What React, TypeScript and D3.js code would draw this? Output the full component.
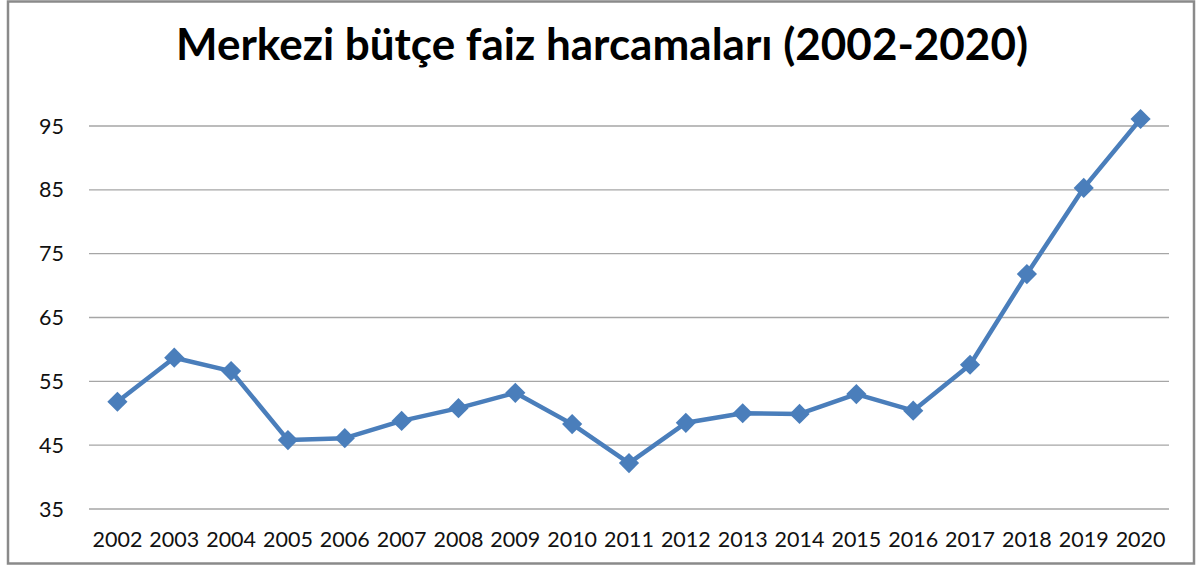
import React from "react";
import * as d3 from "d3";

const years = ["2002","2003","2004","2005","2006","2007","2008","2009","2010","2011","2012","2013","2014","2015","2016","2017","2018","2019","2020"];
const values = [51.8,58.7,56.6,45.8,46.1,48.8,50.8,53.2,48.3,42.2,48.5,50.0,49.9,53.0,50.4,57.6,71.8,85.3,96.1];
const yTicks = [35,45,55,65,75,85,95];
const title = "Merkezi bütçe faiz harcamaları (2002-2020)";

export default function App() {
  const W = 1198, H = 567;
  const left = 89, right = 1169, top = 126, bottom = 509;
  const x = d3.scaleBand<string>().domain(years).range([left, right]);
  const y = d3.scaleLinear().domain([35, 95]).range([bottom, top]);
  const line = d3.line<number>()
    .x((_, i) => (x(years[i]) as number) + x.bandwidth() / 2)
    .y((d) => y(d));
  const diamond = d3.symbol().type(d3.symbolDiamond2).size(260)();
  const color = "#4a7ebb";
  const font = "Lato, 'Open Sans', sans-serif";
  return (
    <svg width={W} height={H} style={{ position: "absolute", left: 0, top: 0, background: "#fff" }}>
      <rect x={8} y={1.5} width={1186} height={562} fill="#fff" stroke="#8a8a8a" strokeWidth={2.5} />
      <text x={602} y={60} textAnchor="middle" fontFamily={font} fontWeight="bold" fontSize={44} textLength={852} lengthAdjust="spacingAndGlyphs" fill="#000">{title}</text>
      {yTicks.map((t) => (
        <g key={t}>
          <line x1={left} x2={right} y1={y(t)} y2={y(t)} stroke="#a6a6a6" strokeWidth={1.3} />
          <text x={64} y={y(t)} dy="0.35em" textAnchor="end" fontFamily={font} fontSize={21.5} fill="#111">{t}</text>
        </g>
      ))}
      {years.map((yr) => (
        <text key={yr} x={(x(yr) as number) + x.bandwidth() / 2} y={547} textAnchor="middle" fontFamily={font} fontSize={21.5} fill="#111">{yr}</text>
      ))}
      <path d={line(values) || ""} fill="none" stroke={color} strokeWidth={4.5} strokeLinejoin="round" />
      {values.map((v, i) => (
        <path key={i} d={diamond || ""} transform={`translate(${(x(years[i]) as number) + x.bandwidth() / 2},${y(v)})`} fill={color} />
      ))}
    </svg>
  );
}
